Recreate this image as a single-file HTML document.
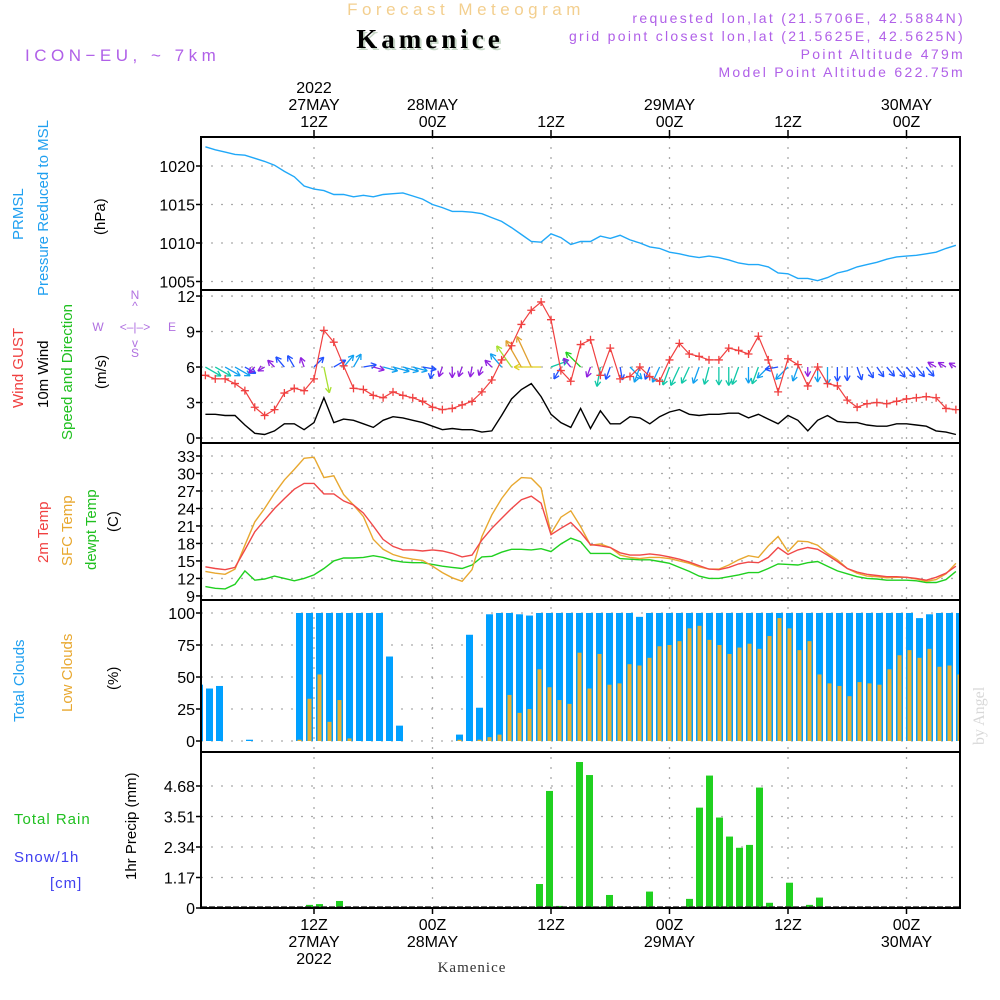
<!DOCTYPE html>
<html><head><meta charset="utf-8">
<style>
html,body{margin:0;padding:0;background:#fff;}
svg{display:block;font-family:"Liberation Sans",sans-serif;}
</style></head>
<body>
<svg id="chart" width="1000" height="1000" viewBox="0 0 1000 1000" xmlns="http://www.w3.org/2000/svg">
<rect width="1000" height="1000" fill="#fff"/>
<text x="466" y="15" text-anchor="middle" font-size="17" letter-spacing="4.5" fill="#f3cf8f">Forecast Meteogram</text>
<text x="965" y="23" text-anchor="end" font-size="14" letter-spacing="2.3" fill="#b060e8">requested lon,lat (21.5706E, 42.5884N)</text>
<text x="965" y="41" text-anchor="end" font-size="14" letter-spacing="2.3" fill="#b060e8">grid point closest lon,lat (21.5625E, 42.5625N)</text>
<text x="965" y="59" text-anchor="end" font-size="14" letter-spacing="2.3" fill="#b060e8">Point Altitude 479m</text>
<text x="965" y="77" text-anchor="end" font-size="14" letter-spacing="2.3" fill="#b060e8">Model Point Altitude 622.75m</text>
<text x="432" y="50" text-anchor="middle" font-family="Liberation Serif,serif" font-weight="bold" font-size="27" letter-spacing="4" fill="#c8d8c8">Kamenice</text>
<text x="430" y="48" text-anchor="middle" font-family="Liberation Serif,serif" font-weight="bold" font-size="27" letter-spacing="4" fill="#000">Kamenice</text>
<text x="25" y="61" font-size="17" letter-spacing="4.5" fill="#b060e8">ICON−EU, ~ 7km</text>
<text x="472" y="972" text-anchor="middle" font-family="Liberation Serif,serif" font-size="15" letter-spacing="1" fill="#333">Kamenice</text>
<text transform="translate(984,745) rotate(-90)" font-family="Liberation Serif,serif" font-size="16" fill="#d8d8d8">by Angel</text>

<g font-size="15">
<text transform="translate(23,240) rotate(-90)" fill="#20a0f0">PRMSL</text>
<text transform="translate(48,296) rotate(-90)" fill="#20a0f0">Pressure Reduced to MSL</text>
<text transform="translate(105,235) rotate(-90)" fill="#000">(hPa)</text>
<text transform="translate(23,408) rotate(-90)" fill="#f04040">Wind GUST</text>
<text transform="translate(48,408) rotate(-90)" fill="#000">10m Wind</text>
<text transform="translate(72,440) rotate(-90)" fill="#20c020">Speed and Direction</text>
<text transform="translate(106,389) rotate(-90)" fill="#000">(m/s)</text>
<text transform="translate(48,563) rotate(-90)" fill="#f04040">2m Temp</text>
<text transform="translate(72,566) rotate(-90)" fill="#e8a830">SFC Temp</text>
<text transform="translate(96,570) rotate(-90)" fill="#20c020">dewpt Temp</text>
<text transform="translate(118,532) rotate(-90)" fill="#000">(C)</text>
<text transform="translate(24,722) rotate(-90)" fill="#20a0f0">Total Clouds</text>
<text transform="translate(72,712) rotate(-90)" fill="#e8a830">Low Clouds</text>
<text transform="translate(118,690) rotate(-90)" fill="#000">(%)</text>
<text x="14" y="824" letter-spacing="1" fill="#20c020">Total  Rain</text>
<text x="14" y="862" letter-spacing="1" fill="#4040f0">Snow/1h</text>
<text x="50" y="888" letter-spacing="1" fill="#4040f0">[cm]</text>
<text transform="translate(136,880) rotate(-90)" fill="#000">1hr Precip (mm)</text>
</g>
<g font-size="12" fill="#b070e0" text-anchor="middle">
<text x="135" y="299">N</text><text x="135" y="310">^</text>
<text x="98" y="331">W</text><text x="135" y="331">&lt;–|–&gt;</text><text x="172" y="331">E</text>
<text x="135" y="347">v</text><text x="135" y="357">S</text>
</g>
<g id="plot"></g>
</svg>
<script>
// ---------- data ----------
const pressure=[1022.5,1022.1,1021.8,1021.5,1021.4,1021.0,1020.6,1020.1,1019.3,1018.6,1017.4,1017.0,1016.8,1016.3,1016.3,1016.0,1016.2,1016.0,1016.3,1016.4,1016.5,1016.1,1015.7,1015.0,1014.6,1014.1,1014.1,1014.0,1013.8,1013.3,1012.8,1012.0,1011.1,1010.2,1010.1,1011.2,1010.7,1009.8,1010.2,1010.2,1010.9,1010.6,1011.0,1010.4,1010.0,1009.5,1009.3,1008.8,1008.6,1008.3,1008.1,1008.3,1008.1,1007.8,1007.4,1007.2,1007.2,1006.9,1006.1,1006.0,1005.4,1005.4,1005.1,1005.5,1006.1,1006.4,1006.9,1007.2,1007.5,1007.9,1008.2,1008.3,1008.4,1008.6,1008.8,1009.3,1009.7];
const gust=[5.3,5.0,5.0,4.6,4.0,2.6,1.9,2.4,3.8,4.2,4.0,5.0,9.1,8.1,6.1,4.2,4.1,3.6,3.4,3.9,3.6,3.4,3.1,2.6,2.4,2.5,2.8,3.1,3.9,4.9,6.6,7.8,9.6,10.8,11.5,10.0,5.7,4.8,7.9,8.3,5.3,7.6,5.0,5.2,6.0,5.2,4.8,6.6,8.0,7.1,6.9,6.6,6.6,7.6,7.4,7.1,8.6,6.6,3.9,6.7,6.2,4.4,6.0,4.6,4.4,3.2,2.6,2.9,3.0,2.9,3.1,3.3,3.4,3.5,3.4,2.5,2.4];
const windSpeed=[2.0,2.0,1.9,1.9,1.1,0.4,0.3,0.6,1.2,1.2,0.7,1.3,3.4,1.3,1.6,1.5,1.2,0.9,1.5,1.8,1.7,1.5,1.3,1.0,0.7,0.8,0.7,0.7,0.5,0.6,1.9,3.3,4.1,4.6,3.5,2.0,1.3,0.9,2.5,0.8,2.3,1.2,1.2,1.8,1.7,1.2,1.8,2.2,2.4,2.0,1.9,2.0,2.0,2.1,2.1,1.7,2.0,1.6,1.2,1.9,1.5,0.6,1.5,1.9,1.4,1.3,1.3,1.1,1.0,1.0,1.2,1.2,1.1,1.0,0.6,0.5,0.3];
const windToDir=[120,120,120,120,120,225,240,315,320,330,340,45,168,60,40,30,80,105,105,105,105,105,100,190,200,180,200,190,200,315,320,325,330,335,270,70,210,320,315,200,190,200,170,135,200,200,205,200,205,205,200,195,180,180,200,180,200,225,260,225,200,180,180,180,180,180,160,150,145,140,140,140,140,140,300,300,300];
const temp2m=[14.0,13.7,13.5,13.9,16.9,20.0,22.0,24.0,25.7,27.3,28.3,28.3,26.5,26.5,25.3,24.6,23.2,21.0,18.7,17.5,16.9,16.9,16.7,16.9,16.7,16.3,15.7,16.0,18.6,20.6,22.3,24.0,25.5,26.1,24.9,19.5,20.6,21.6,19.9,17.8,17.6,17.3,16.4,16.0,16.0,16.2,16.0,15.7,15.3,14.8,14.2,13.6,13.5,13.9,14.5,14.8,14.7,15.6,17.3,16.1,16.9,17.3,17.0,16.0,14.9,13.7,13.1,12.7,12.5,12.3,12.3,12.2,12.0,11.7,12.2,12.9,14.1];
const sfcTemp=[13.2,12.9,12.7,13.6,17.7,21.7,24.0,26.6,28.9,30.7,32.6,32.8,29.3,29.6,26.4,24.6,22.6,18.7,17.0,16.1,15.6,15.3,15.1,14.1,13.0,12.1,11.5,13.5,19.2,22.9,25.7,27.9,29.3,29.2,27.5,19.7,22.5,23.6,20.9,17.7,17.9,17.3,16.0,15.6,15.4,15.6,15.6,15.4,15.0,14.6,14.0,13.6,13.6,14.3,15.2,15.9,15.6,17.6,19.2,16.6,18.4,18.3,17.7,16.3,15.2,13.7,12.9,12.4,12.3,12.1,12.2,12.2,11.9,11.5,11.8,12.8,14.6];
const dewpt=[10.6,10.3,10.2,11.0,13.3,11.7,11.9,12.4,12.0,11.6,12.0,12.6,13.7,15.0,15.5,15.5,15.6,15.9,15.6,15.1,14.8,14.7,14.7,14.4,14.1,13.9,13.7,14.3,15.7,15.8,16.5,17.0,17.0,16.9,17.1,16.6,17.9,18.9,18.3,16.3,16.3,16.3,15.4,15.3,15.2,15.2,14.9,14.6,13.9,13.2,12.4,12.0,12.0,12.3,12.6,13.0,13.0,13.7,14.5,14.4,14.3,14.7,14.9,14.1,13.3,12.8,12.3,12.0,11.9,11.7,11.7,11.7,11.6,11.3,11.3,11.8,13.2];
const totalClouds=[44,41,43,0,0,1,0,0,0,0,100,100,100,100,100,100,100,100,100,66,12,0,0,0,0,0,5,83,26,99,100,100,99,98,100,100,100,100,100,100,100,100,100,100,97,100,100,100,100,100,100,100,100,100,100,100,100,100,100,100,100,100,100,100,100,100,100,100,100,100,100,100,96,99,100,100,100];
const lowClouds=[0,0,0,0,0,0,0,0,0,0,1,33,52,15,32,2,0,0,0,0,0,0,0,0,0,0,1,0,1,3,5,36,22,25,56,42,32,29,69,41,68,44,45,60,59,65,74,75,78,88,90,79,75,68,73,76,72,82,96,88,71,78,52,45,43,35,46,45,44,56,67,71,65,72,58,59,52];
const precip=[0,0,0,0,0,0,0,0,0,0,0,0.12,0.15,0,0.27,0,0,0,0,0,0,0,0,0,0,0,0,0,0,0,0,0,0,0,0.92,4.49,0.08,0,5.6,5.1,0.05,0.5,0,0,0.05,0.63,0,0,0,0.35,3.85,5.08,3.47,2.74,2.31,2.42,4.62,0.2,0,0.97,0,0.12,0.4,0,0,0,0,0,0,0,0,0,0,0,0,0,0];
const pressureTicks=[1005,1010,1015,1020];
const windTicks=[0,3,6,9,12];
const tempTicks=[9,12,15,18,21,24,27,30,33];
const cloudTicks=[0,25,50,75,100];
const precipTicks=[0,1.17,2.34,3.51,4.68];
const timeTickHours=[12,24,36,48,60,72];
const topTimeLabels=[["2022","27MAY","12Z"],["28MAY","00Z"],["12Z"],["29MAY","00Z"],["12Z"],["30MAY","00Z"]];
const bottomTimeLabels=[["12Z","27MAY","2022"],["00Z","28MAY"],["12Z"],["00Z","29MAY"],["12Z"],["00Z","30MAY"]];

// ---------- scales ----------
const X0=201,X1=960;
const xH=h=>195.5+9.875*h;
const xBar=i=>196+10*i;
const yP=v=>166+(1020-v)*7.7;
const yW=v=>438-v*11.83;
const yT=v=>456+(33-v)*5.83;
const yC=v=>741-v*1.28;
const yR=v=>908-v*26.07;
const panels=[[137,290],[290,443],[443,600],[600,752],[752,908]];

const NS="http://www.w3.org/2000/svg";
const plot=document.getElementById('plot');
function mk(tag,attrs,parent){const e=document.createElementNS(NS,tag);for(const k in attrs)e.setAttribute(k,attrs[k]);(parent||plot).appendChild(e);return e;}
const defs=mk('defs',{});
const cp=mk('clipPath',{id:'clip'},defs);
mk('rect',{x:X0,y:137,width:X1-X0,height:771},cp);

function hGrid(ticks,yf,fmt,name){
  ticks.forEach(t=>{
    const y=yf(t);
    const l=mk('line',{x1:X0,x2:X1,y1:y,y2:y,stroke:'#aaa','stroke-dasharray':'2,8','stroke-width':1.3});
    
    
    mk('line',{x1:X0-5,x2:X0,y1:y,y2:y,stroke:'#000','stroke-width':1.5});
    const tx=mk('text',{x:X0-6,y:y+6,'text-anchor':'end','font-size':16,fill:'#000'});
    tx.textContent=fmt(t);
    
    
  });
}
hGrid(pressureTicks,yP,t=>t,'pressure');
hGrid(windTicks,yW,t=>t,'wind');
hGrid(tempTicks,yT,t=>t,'temp');
hGrid(cloudTicks,yC,t=>t,'cloud');
hGrid(precipTicks,yR,t=>t===0?'0':t.toFixed(2),'precip');
timeTickHours.forEach((h,k)=>{
  const x=xH(h);
  const v=mk('line',{x1:x,x2:x,y1:137,y2:908,stroke:'#aaa','stroke-dasharray':'2,8','stroke-width':1.3});
  
  
  mk('line',{x1:x,x2:x,y1:130,y2:137,stroke:'#000','stroke-width':1.5});
  mk('line',{x1:x,x2:x,y1:908,y2:914,stroke:'#000','stroke-width':1.5});
  const tl=topTimeLabels[k];
  tl.forEach((s,j)=>{const t=mk('text',{x:x,y:127-(tl.length-1-j)*17,'text-anchor':'middle','font-size':16,fill:'#000'});t.textContent=s;
    
    });
  bottomTimeLabels[k].forEach((s,j)=>{const t=mk('text',{x:x,y:930+j*17,'text-anchor':'middle','font-size':16,fill:'#000'});t.textContent=s;
    
    });
});

const g=mk('g',{'clip-path':'url(#clip)'});
function bars(arr,yf,y0,color,w,off,name){
  arr.forEach((v,i)=>{
    if(v<=0)return;
    const y=yf(v);
    const r=mk('rect',{x:xBar(i)+off,y:y,width:w,height:y0-y,fill:color},g);
    
    
  });
}
bars(totalClouds,yC,yC(0),'#00a0ff',7,0,'total-cloud-bar');
bars(lowClouds,yC,yC(0),'#e8b030',4,1.5,'low-cloud-bar');
bars(precip,yR,yR(0),'#20d020',7,0,'precip-bar');

function line(arr,yf,color,name,w){
  const pts=arr.map((v,i)=>xH(i+1).toFixed(1)+','+yf(v).toFixed(1)).join(' ');
  const p=mk('polyline',{points:pts,fill:'none',stroke:color,'stroke-width':w||1.4},g);
  
  
}
line(pressure,yP,'#20a8f8','pressure-line');
line(windSpeed,yW,'#000','wind-speed-line');
function speedColor(s){if(s<1)return'#9020e0';if(s<1.5)return'#2050ff';if(s<2)return'#10a0f0';if(s<2.5)return'#10c8a8';if(s<3)return'#20d020';if(s<3.5)return'#a8e030';if(s<4)return'#e0d020';return'#e0a030';}
windToDir.forEach((d,i)=>{
  const s=windSpeed[i],L=6+6*s,a=d*Math.PI/180;
  const x0=xH(i+1),y0=yW(6),x1=x0+L*Math.sin(a),y1=y0-L*Math.cos(a);
  const c=speedColor(s);
  const ag=mk('g',{stroke:c,'stroke-width':1.3,fill:'none'},g);
  
  
  mk('line',{x1:x0,y1:y0,x2:x1,y2:y1},ag);
  const hl=6;
  [a+Math.PI-0.5,a+Math.PI+0.5].forEach(b=>mk('line',{x1:x1,y1:y1,x2:x1+hl*Math.sin(b),y2:y1-hl*Math.cos(b)},ag));
});
line(gust,yW,'#f04040','gust-line',1.2);
gust.forEach((v,i)=>{
  const x=xH(i+1),y=yW(v);
  const m=mk('path',{d:`M${x-4},${y}H${x+4}M${x},${y-4}V${y+4}`,stroke:'#f04040','stroke-width':1.3},g);
  
  
});
line(dewpt,yT,'#20d020','dewpt-line');
line(sfcTemp,yT,'#e8a830','sfc-temp-line');
line(temp2m,yT,'#f04848','temp2m-line');
mk('line',{x1:X0,x2:X1,y1:907,y2:907,stroke:'#333','stroke-width':1.5,'stroke-dasharray':'6,2'},g);

panels.forEach((p,k)=>{
  const r=mk('rect',{x:X0,y:p[0],width:X1-X0,height:p[1]-p[0],fill:'none',stroke:'#000','stroke-width':2});
  
  
});
</script>
</body></html>
